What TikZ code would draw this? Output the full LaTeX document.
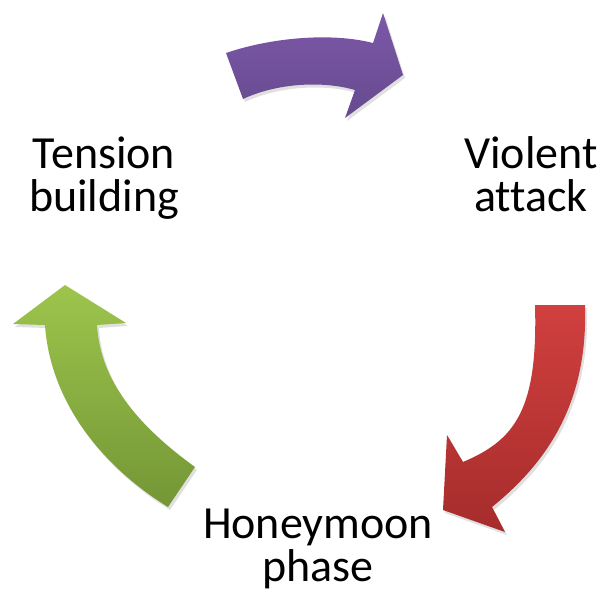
\documentclass[tikz,border=0pt]{standalone}
\usepackage{fontspec}
\setmainfont[Ligatures=NoCommon]{Carlito}
\begin{document}
\begin{tikzpicture}[x=1pt,y=-1pt,
  lbl/.style={inner sep=0pt,align=center,anchor=base,font=\fontsize{46}{43}\selectfont},
  shadowfill/.style={fill=black,opacity=0.12}]
\useasboundingbox (0,0) rectangle (604,597);
% purple arrow (top)
\def\purplepath{(226,53) .. controls (270,38) and (330,32) .. (373,43) -- (383,13) -- (403,75) -- (345,118) -- (355,90) .. controls (320,80) and (275,84) .. (243,99) -- cycle}
\fill[shadowfill,shift={(2,3)}] \purplepath;
\shade[top color={rgb,255:red,124;green,88;blue,168},bottom color={rgb,255:red,102;green,74;blue,142}] \purplepath;
% red arrow (right)
\def\redpath{(535,305) -- (585,305) .. controls (588,400) and (550,460) .. (492,507) -- (505,532) -- (443,510) -- (447,435) -- (463,462) .. controls (515,440) and (538,410) .. (535,305) -- cycle}
\fill[shadowfill,shift={(2,3)}] \redpath;
\shade[top color={rgb,255:red,208;green,64;blue,62},bottom color={rgb,255:red,166;green,44;blue,44}] \redpath;
% green arrow (left)
\def\greenpath{(65,285) -- (126,323) -- (97,325) .. controls (100,375) and (130,420) .. (195,467) -- (168,507) .. controls (100,465) and (50,400) .. (45,325) -- (13,324) -- cycle}
\fill[shadowfill,shift={(2,3)}] \greenpath;
\shade[top color={rgb,255:red,157;green,197;blue,76},bottom color={rgb,255:red,116;green,150;blue,54}] \greenpath;
% labels (base anchor = baseline of last line)
\node[lbl] (tension) at (104,211) {Tension\\building};
\node[lbl] (violent) at (531,211) {Violent\\attack};
\node[lbl] (honey) at (318,581) {Honeymoon\\phase};
\end{tikzpicture}
\end{document}
